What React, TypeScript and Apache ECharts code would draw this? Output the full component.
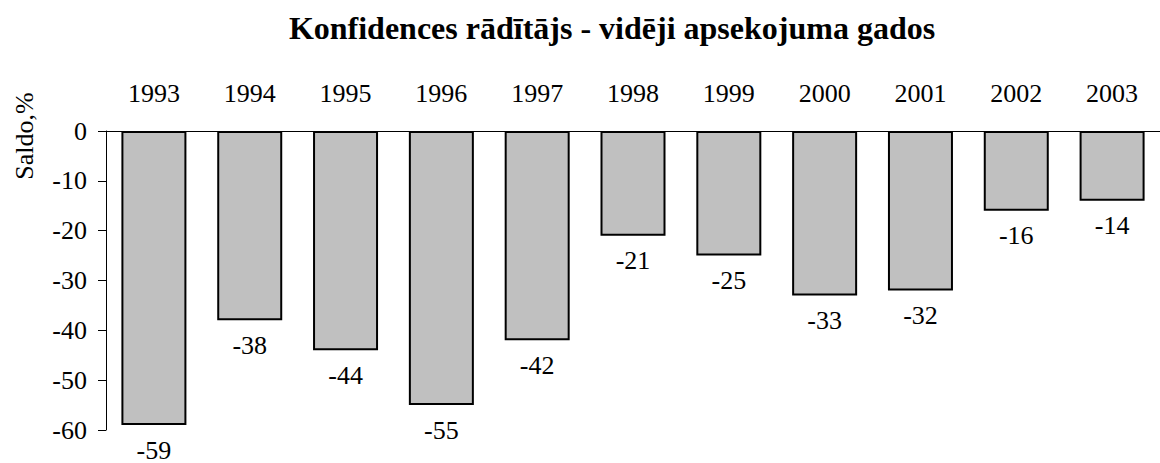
import React, { useEffect, useRef } from "react";
import * as echarts from "echarts";

const categories = ["1993", "1994", "1995", "1996", "1997", "1998", "1999", "2000", "2001", "2002", "2003"];
const values = [-59, -38, -44, -55, -42, -21, -25, -33, -32, -16, -14];
const yMin = -60;
const yMax = 0;
const yInterval = 10;
const titleText = "Konfidences rādītājs - vidēji apsekojuma gados";
const yAxisTitle = "Saldo,%";

const FONT = "'Liberation Serif', 'Times New Roman', serif";

export default function App() {
  const ref = useRef<HTMLDivElement>(null);
  useEffect(() => {
    if (!ref.current) return;
    const chart = echarts.init(ref.current, undefined, { renderer: "svg" });
    chart.setOption({
      animation: false,
      backgroundColor: "#ffffff",
      graphic: [
        {
          type: "text",
          x: 612,
          y: 28,
          style: {
            text: titleText,
            align: "center",
            verticalAlign: "middle",
            fontFamily: FONT,
            fontWeight: "bold",
            fontSize: 32,
            fill: "#000",
          },
        },
        {
          type: "text",
          x: 24,
          y: 136,
          rotation: Math.PI / 2,
          style: {
            text: yAxisTitle,
            align: "center",
            verticalAlign: "middle",
            fontFamily: FONT,
            fontSize: 26,
            fill: "#000",
          },
        },
      ],
      grid: { left: 106, top: 131, width: 1067, height: 299, containLabel: false },
      xAxis: {
        type: "category",
        data: categories,
        position: "top",
        axisLine: { show: true, lineStyle: { color: "#000", width: 1 } },
        axisTick: { show: false },
        axisLabel: { margin: 25, fontFamily: FONT, fontSize: 26, color: "#000" },
        splitLine: { show: false },
      },
      yAxis: {
        type: "value",
        min: yMin,
        max: yMax,
        interval: yInterval,
        axisLine: { show: true, lineStyle: { color: "#000", width: 1 } },
        axisTick: { show: true, length: 8, lineStyle: { color: "#000" } },
        axisLabel: { margin: 19, fontFamily: FONT, fontSize: 26, color: "#000" },
        splitLine: { show: false },
      },
      series: [
        {
          type: "bar",
          data: values,
          barWidth: 65,
          itemStyle: { color: "#c0c0c0", borderColor: "#000", borderWidth: 2 },
          label: {
            show: true,
            position: "bottom",
            distance: 12,
            fontFamily: FONT,
            fontSize: 26,
            color: "#000",
          },
        },
      ],
    });
    return () => chart.dispose();
  }, []);
  return <div ref={ref} style={{ position: "fixed", left: 0, top: 0, width: 1160, height: 463 }} />;
}
